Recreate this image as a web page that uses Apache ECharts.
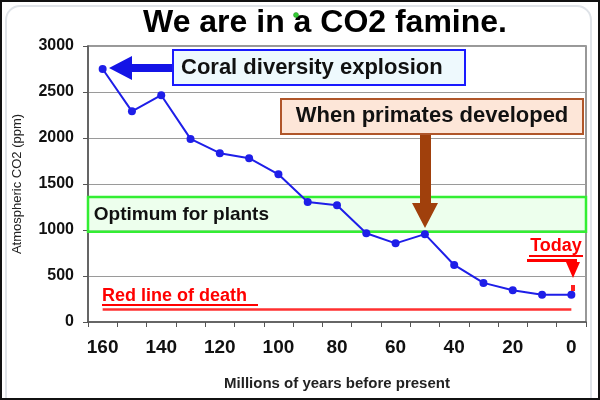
<!DOCTYPE html>
<html>
<head>
<meta charset="utf-8">
<script src="https://cdn.jsdelivr.net/npm/echarts@6/dist/echarts.min.js"></script>
<style>html,body{margin:0;padding:0;background:#fff;}#c{width:600px;height:400px;}</style>
</head>
<body>
<div id="c"></div>
<script>
// Data
var years = ['160','150','140','130','120','110','100','90','80','70','60','50','40','30','20','10','0'];
var co2 = [2750, 2290, 2465, 1990, 1835, 1780, 1605, 1305, 1270, 965, 855, 955, 620, 425, 345, 295, 295];
var yTicks = [0, 500, 1000, 1500, 2000, 2500, 3000];
var optimumRange = [980, 1360];
var deathLevel = 140;

var FONT = '"Liberation Sans", Arial, sans-serif';
var chart = echarts.init(document.getElementById('c'), null, {renderer: 'canvas'});

function underline(x1, x2, y, color) {
  return {type: 'line', z: 100, shape: {x1: x1, y1: y, x2: x2, y2: y}, style: {stroke: color, lineWidth: 2}};
}

var option = {
  backgroundColor: '#fff',
  animation: false,
  grid: {left: 88, right: 14, top: 46, bottom: 78, show: true, borderColor: '#777', borderWidth: 1.5},
  xAxis: {
    type: 'category',
    data: years,
    boundaryGap: true,
    axisLine: {show: true, lineStyle: {color: '#555', width: 1.5}},
    axisTick: {show: true, interval: 0, length: 5, lineStyle: {color: '#555'}},
    axisLabel: {interval: 1, margin: 16, fontSize: 19, fontWeight: 'bold', color: '#111', fontFamily: FONT},
    name: 'Millions of years before present',
    nameLocation: 'middle',
    nameGap: 54,
    nameTextStyle: {fontSize: 15, fontWeight: 'bold', color: '#222', fontFamily: FONT}
  },
  yAxis: {
    type: 'value',
    min: yTicks[0],
    max: yTicks[yTicks.length - 1],
    interval: yTicks[1] - yTicks[0],
    axisLine: {show: true, lineStyle: {color: '#555', width: 1.5}},
    axisTick: {show: true, length: 5, lineStyle: {color: '#555'}},
    splitLine: {show: true, lineStyle: {color: '#9a9a9a', width: 1}},
    axisLabel: {margin: 14, fontSize: 16, fontWeight: 'bold', color: '#111', fontFamily: FONT,
      formatter: function (v) { return String(v); }},
    name: 'Atmospheric CO2 (ppm)',
    nameLocation: 'middle',
    nameGap: 64,
    nameTextStyle: {fontSize: 13, color: '#222', fontFamily: FONT}
  },
  series: [
    {
      type: 'line',
      data: co2,
      z: 2,
      symbol: 'circle',
      symbolSize: 8,
      lineStyle: {color: '#1e1ee8', width: 2},
      itemStyle: {color: '#1e1ee8'},
      markLine: {
        silent: true,
        symbol: 'none',
        label: {show: false},
        lineStyle: {color: '#ff3030', width: 2.5, type: 'solid'},
        data: [[{coord: [years[0], deathLevel]}, {coord: [years[years.length - 1], deathLevel]}]]
      }
    },
    {
      type: 'line',
      data: [],
      z: 5,
      markArea: {
        silent: true,
        itemStyle: {color: 'rgba(225,255,225,0.6)', borderColor: '#33ee33', borderWidth: 2.5},
        label: {show: true, position: 'insideLeft', distance: 7, fontSize: 19, fontWeight: 'bold', color: '#111', fontFamily: FONT},
        data: [[{yAxis: optimumRange[0], name: 'Optimum for plants'}, {yAxis: optimumRange[1]}]]
      }
    }
  ],
  graphic: [
    // outer frames
    {type: 'rect', z: 0, silent: true, shape: {x: 6, y: 6, width: 585, height: 410, r: 14}, style: {fill: 'none', stroke: '#dfe3e8', lineWidth: 2}},
    {type: 'rect', z: 200, silent: true, shape: {x: 1, y: 1, width: 598, height: 398}, style: {fill: 'none', stroke: '#111', lineWidth: 2}},
    // title
    {type: 'text', z: 100, x: 325, y: 23, style: {text: 'We are in a CO2 famine.', font: 'bold 32px ' + FONT, fill: '#000', textAlign: 'center', textVerticalAlign: 'middle'}},
    {type: 'circle', z: 101, shape: {cx: 296, cy: 15, r: 2.5}, style: {fill: '#33cc33', stroke: '#228822', lineWidth: 0.5}},
    // coral box + arrow
    {type: 'polygon', z: 100, shape: {points: [[174,64],[132,64],[132,56],[109,68],[132,80],[132,72],[174,72]]}, style: {fill: '#1414e6'}},
    {type: 'rect', z: 100, shape: {x: 173, y: 50, width: 292, height: 35}, style: {fill: '#eef9fd', stroke: '#1a1aff', lineWidth: 2}},
    {type: 'text', z: 101, x: 181, y: 68, style: {text: 'Coral diversity explosion', font: 'bold 22px ' + FONT, fill: '#111', textAlign: 'left', textVerticalAlign: 'middle'}},
    // primates box + arrow
    {type: 'polygon', z: 100, shape: {points: [[420,134],[431,134],[431,203],[438,203],[425,228],[412,203],[420,203]]}, style: {fill: '#a0400c'}},
    {type: 'rect', z: 100, shape: {x: 281, y: 99, width: 302, height: 35}, style: {fill: '#fde6d8', stroke: '#b0562a', lineWidth: 2}},
    {type: 'text', z: 101, x: 432, y: 116, style: {text: 'When primates developed', font: 'bold 22px ' + FONT, fill: '#111', textAlign: 'center', textVerticalAlign: 'middle'}},
    // today
    {type: 'text', z: 100, x: 556, y: 246, style: {text: 'Today', font: 'bold 18px ' + FONT, fill: '#ff0000', textAlign: 'center', textVerticalAlign: 'middle'}},
    underline(529, 583, 256, '#ff0000'),
    {type: 'rect', z: 100, shape: {x: 527, y: 259, width: 50, height: 3}, style: {fill: '#ff0000'}},
    {type: 'polygon', z: 100, shape: {points: [[566,262],[580,262],[573,278]]}, style: {fill: '#ff0000'}},
    {type: 'rect', z: 100, shape: {x: 571, y: 285, width: 4, height: 6}, style: {fill: '#ff2020'}},
    // red line of death
    {type: 'text', z: 100, x: 102, y: 296, style: {text: 'Red line of death', font: 'bold 18px ' + FONT, fill: '#ff0000', textAlign: 'left', textVerticalAlign: 'middle'}},
    underline(102, 258, 305, '#ff0000')
  ]
};
chart.setOption(option);
</script>
</body>
</html>
